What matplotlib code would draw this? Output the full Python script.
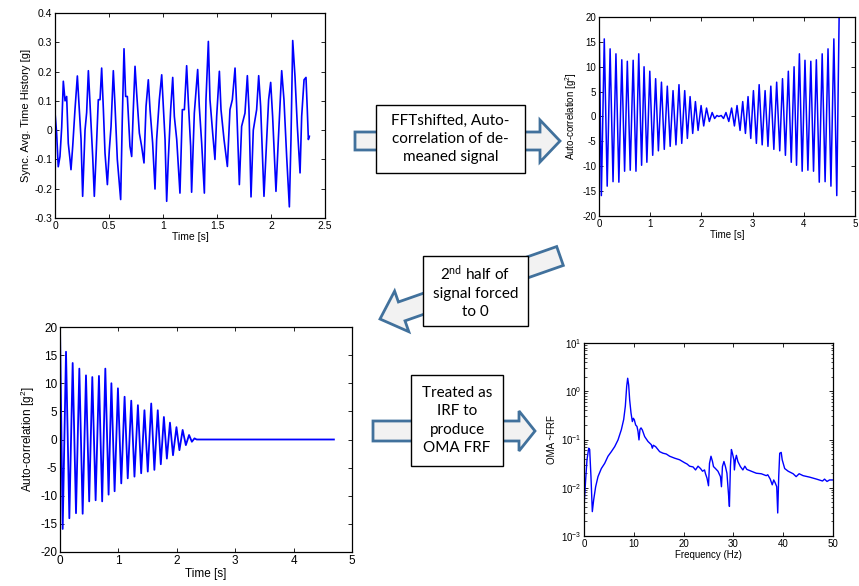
import numpy as np
import matplotlib.pyplot as plt
from matplotlib.patches import FancyArrow, Rectangle
from matplotlib.ticker import FormatStrFormatter

plt.rcParams['font.family'] = ['Liberation Sans', 'DejaVu Sans']
plt.rcParams['axes.unicode_minus'] = False
plt.rcParams['mathtext.fontset'] = 'custom'
plt.rcParams['mathtext.rm'] = 'Liberation Sans'
plt.rcParams['mathtext.it'] = 'Liberation Sans:italic'
plt.rcParams['mathtext.sf'] = 'Lato'
plt.rcParams['xtick.direction'] = 'in'
plt.rcParams['ytick.direction'] = 'in'
plt.rcParams['xtick.top'] = True
plt.rcParams['ytick.right'] = True

# synchronous averaged time history [g]
hist_t = [0.000, 0.015, 0.030, 0.046, 0.062, 0.077, 0.093, 0.108, 0.123, 0.139, 0.148, 0.164,
          0.185, 0.207, 0.225, 0.241, 0.256, 0.278, 0.293, 0.309, 0.330, 0.349, 0.364, 0.380,
          0.401, 0.417, 0.432, 0.448, 0.463, 0.485, 0.503, 0.519, 0.540, 0.556, 0.577, 0.608,
          0.623, 0.639, 0.654, 0.670, 0.694, 0.710, 0.725, 0.741, 0.756, 0.781, 0.802, 0.824,
          0.843, 0.864, 0.880, 0.904, 0.926, 0.941, 0.966, 0.988, 1.003, 1.019, 1.034, 1.049,
          1.071, 1.090, 1.105, 1.127, 1.157, 1.179, 1.198, 1.219, 1.235, 1.256, 1.265, 1.290,
          1.321, 1.336, 1.358, 1.383, 1.398, 1.420, 1.435, 1.460, 1.481, 1.497, 1.522, 1.537,
          1.565, 1.596, 1.620, 1.642, 1.667, 1.682, 1.707, 1.728, 1.759, 1.781, 1.796, 1.815,
          1.836, 1.867, 1.886, 1.904, 1.935, 1.960, 1.978, 1.997, 2.015, 2.046, 2.068, 2.099,
          2.120, 2.145, 2.170, 2.185, 2.201, 2.222, 2.244, 2.269, 2.284, 2.306, 2.324, 2.336,
          2.346, 2.355]
hist_g = [0.060, -0.010, -0.125, -0.090, 0.010, 0.167, 0.100, 0.115, -0.045, -0.100, -0.135, -0.055,
          0.070, 0.185, 0.070, -0.030, -0.226, 0.000, 0.060, 0.203, 0.047, -0.090, -0.226, -0.090,
          0.104, 0.104, 0.212, 0.070, -0.078, -0.186, -0.067, 0.013, 0.203, 0.081, -0.100, -0.237,
          0.036, 0.278, 0.115, 0.115, -0.055, -0.090, 0.070, 0.218, 0.127, -0.010, -0.055, -0.112,
          0.081, 0.172, 0.070, -0.044, -0.201, -0.032, 0.104, 0.189, 0.081, -0.032, -0.243, -0.100,
          0.070, 0.180, 0.047, -0.032, -0.215, 0.070, 0.070, 0.220, 0.093, -0.055, -0.212, 0.058,
          0.207, 0.081, -0.044, -0.215, 0.104, 0.303, 0.104, -0.010, -0.100, 0.047, 0.201, 0.070,
          -0.032, -0.124, 0.070, 0.104, 0.212, 0.081, -0.186, 0.013, 0.058, 0.186, 0.070, -0.228,
          0.000, 0.070, 0.186, 0.081, -0.226, -0.032, 0.104, 0.163, 0.047, -0.209, -0.032, 0.203,
          0.104, -0.090, -0.262, -0.032, 0.306, 0.184, 0.013, -0.146, 0.047, 0.172, 0.180, 0.070,
          -0.032, -0.021]
hist_xticks = [0, 0.5, 1, 1.5, 2, 2.5]
hist_yticks = [-0.3, -0.2, -0.1, 0, 0.1, 0.2, 0.3, 0.4]
hist_ylabels = ['-0.3', '-0.2', '-0.1', '0', '0.1', '0.2', '0.3', '0.4']

# auto-correlation, first half (peaks and troughs) [g^2]
acf_t_left = [0.000, 0.046, 0.103, 0.160, 0.217, 0.274, 0.331, 0.388, 0.445, 0.500, 0.553, 0.610,
              0.667, 0.722, 0.776, 0.832, 0.880, 0.935, 0.992, 1.049, 1.106, 1.160, 1.220, 1.275,
              1.334, 1.390, 1.446, 1.503, 1.562, 1.616, 1.674, 1.726, 1.779, 1.830, 1.883, 1.935,
              1.994, 2.045, 2.100, 2.155, 2.210, 2.258, 2.303, 2.340]
acf_left = [20.0, -15.9, 15.6, -14.0, 13.6, -13.1, 12.6, -13.2, 11.4, -11.0, 11.1, -10.8,
            11.3, -11.0, 12.6, -9.8, 10.0, -9.2, 9.1, -7.8, 7.6, -6.9, 6.9, -6.6,
            6.1, -6.0, 5.2, -5.7, 6.4, -5.4, 5.2, -4.4, 4.0, -3.4, 3.0, -2.8,
            2.2, -1.9, 1.7, -1.0, 0.8, -0.4, 0.2, 0.0]
# auto-correlation, second half
acf_t_right = [2.387, 2.432, 2.480, 2.535, 2.590, 2.645, 2.696, 2.755, 2.807, 2.860, 2.911, 2.964,
               3.016, 3.074, 3.128, 3.187, 3.244, 3.300, 3.356, 3.415, 3.470, 3.530, 3.584, 3.641,
               3.698, 3.755, 3.810, 3.858, 3.914, 3.968, 4.023, 4.080, 4.137, 4.190, 4.245, 4.302,
               4.359, 4.416, 4.473, 4.530, 4.587, 4.644, 4.690]
acf_right = [0.2, -0.4, 0.8, -1.0, 1.7, -1.9, 2.2, -2.8, 3.0, -3.4, 4.0, -4.4,
             5.2, -5.4, 6.4, -5.7, 5.2, -6.0, 6.1, -6.6, 6.9, -6.9, 7.6, -7.8,
             9.1, -9.2, 10.0, -9.8, 12.6, -11.0, 11.3, -10.8, 11.1, -11.0, 11.4, -13.2,
             12.6, -13.1, 13.6, -14.0, 15.6, -15.9, 20.0]
# second half forced to zero
zero_t = [2.340, 4.690]
zero_v = [0.0, 0.0]

# OMA ~FRF
frf_f = [0.0, 0.33, 0.6, 0.94, 1.14, 1.4, 1.67, 1.94, 2.34, 2.81, 3.48, 4.15, 4.82, 5.49, 6.16,
         6.83, 7.5, 7.97, 8.3, 8.57, 8.77, 8.97, 9.17, 9.44, 9.71, 9.91, 10.1, 10.37, 10.64,
         10.84, 11.04, 11.24, 11.45, 11.71, 12.18, 12.85, 13.52, 13.72, 13.92, 14.39, 15.19,
         15.86, 16.53, 17.2, 18.2, 19.2, 20.2, 20.7, 21.2, 21.9, 22.4, 22.9, 23.4, 23.8, 24.2,
         24.4, 24.7, 25.0, 25.2, 25.5, 25.8, 26.0, 26.4, 26.9, 27.4, 27.6, 27.8, 28.1, 28.4,
         28.7, 29.0, 29.2, 29.4, 29.6, 29.8, 30.1, 30.2, 30.4, 30.6, 30.9, 31.4, 31.9, 32.3,
         32.7, 33.6, 34.6, 35.6, 36.6, 36.9, 37.4, 37.8, 38.1, 38.4, 38.7, 38.9, 39.1, 39.3,
         39.6, 39.8, 40.3, 41.0, 42.0, 42.6, 43.2, 44.0, 45.3, 46.7, 47.9, 48.3, 48.8, 49.3, 50.0]
frf_amp = [0.004, 0.0145, 0.038, 0.066, 0.062, 0.017, 0.0032, 0.0056, 0.0105, 0.017, 0.025, 0.032,
           0.045, 0.056, 0.071, 0.098, 0.16, 0.26, 0.49, 1.26, 1.86, 1.35, 0.66, 0.355, 0.235,
           0.275, 0.257, 0.2, 0.186, 0.148, 0.098, 0.162, 0.174, 0.158, 0.115, 0.091, 0.078,
           0.066, 0.076, 0.071, 0.056, 0.052, 0.05, 0.045, 0.041, 0.038, 0.033, 0.031, 0.028,
           0.027, 0.0234, 0.028, 0.025, 0.022, 0.0234, 0.0195, 0.0158, 0.011, 0.032, 0.045,
           0.035, 0.0275, 0.025, 0.022, 0.017, 0.0105, 0.0275, 0.035, 0.0275, 0.02, 0.0078,
           0.0041, 0.0275, 0.062, 0.052, 0.038, 0.0234, 0.038, 0.047, 0.035, 0.0275, 0.0234,
           0.028, 0.024, 0.022, 0.02, 0.0195, 0.0178, 0.0186, 0.0151, 0.0115, 0.0145, 0.0126,
           0.0105, 0.003, 0.017, 0.052, 0.054, 0.038, 0.025, 0.022, 0.0195, 0.017, 0.0195,
           0.0178, 0.0166, 0.0151, 0.0138, 0.0151, 0.0135, 0.0145, 0.0145]

W, H = 859, 586
fig = plt.figure(figsize=(W / 100, H / 100), dpi=100)

# overlay in pixel coordinates for arrows and boxes
ov = fig.add_axes([0, 0, 1, 1])
ov.set_xlim(0, W)
ov.set_ylim(H, 0)
ov.axis('off')

def pax(left, top, right, bottom):
    return fig.add_axes([left / W, 1 - bottom / H, (right - left) / W, (bottom - top) / H])

def matlab_style(ax, fs):
    ax.tick_params(labelsize=fs, length=3, width=0.6, pad=2)
    ax.tick_params(which='minor', length=1.8, width=0.5)
    for s in ax.spines.values():
        s.set_linewidth(0.9)

blue = (0, 0, 1)

ax1 = pax(55, 13, 325, 218)
ax1.plot(hist_t, hist_g, color=blue, lw=1.2)
ax1.set_xlim(0, 2.5)
ax1.set_ylim(-0.3, 0.4)
ax1.set_xticks(hist_xticks)
ax1.set_yticks(hist_yticks)
ax1.set_yticklabels(hist_ylabels)
ax1.xaxis.set_major_formatter(FormatStrFormatter('%g'))
ax1.set_xlabel('Time [s]', fontsize=7.5, labelpad=1)
ax1.set_ylabel('Sync. Avg. Time History [g]', fontsize=8, labelpad=2)
matlab_style(ax1, 7.5)

ax2 = pax(599, 17, 855, 216)
ax2.plot(acf_t_left + acf_t_right, acf_left + acf_right, color=blue, lw=1.1)
ax2.set_xlim(0, 5)
ax2.set_ylim(-20, 20)
ax2.set_yticks(np.arange(-20, 21, 5))
ax2.set_xlabel('Time [s]', fontsize=7, labelpad=1)
ax2.set_ylabel('Auto-correlation [g$^2$]', fontsize=7, labelpad=2)
matlab_style(ax2, 7)

ax3 = pax(60, 327, 352, 552)
ax3.plot(acf_t_left + zero_t, acf_left + zero_v, color=blue, lw=1.3)
ax3.set_xlim(0, 5)
ax3.set_ylim(-20, 20)
ax3.set_yticks(np.arange(-20, 21, 5))
ax3.set_xlabel('Time [s]', fontsize=8.5, labelpad=1)
ax3.set_ylabel('Auto-correlation [g$^2$]', fontsize=8.5, labelpad=2)
matlab_style(ax3, 8.5)

ax4 = pax(584, 343, 833, 536)
ax4.semilogy(frf_f, frf_amp, color=blue, lw=1.0)
ax4.set_xlim(0, 50)
ax4.set_ylim(1e-3, 1e1)
ax4.set_xticks(np.arange(0, 51, 10))
ax4.set_xlabel('Frequency (Hz)', fontsize=7, labelpad=1)
ax4.set_ylabel('OMA ~FRF', fontsize=7, labelpad=3)
matlab_style(ax4, 7)

# block arrows between panels
arrow_fc = '#f2f2f2'
arrow_ec = '#41719c'
ov.add_patch(FancyArrow(355, 141, 205, 0, width=18, head_width=42, head_length=20,
                        length_includes_head=True, fc=arrow_fc, ec=arrow_ec, lw=2, zorder=1))
ov.add_patch(FancyArrow(560, 256, -180, 63, width=20, head_width=43, head_length=23,
                        length_includes_head=True, fc=arrow_fc, ec=arrow_ec, lw=2, zorder=1))
ov.add_patch(FancyArrow(373, 431, 162, 0, width=20, head_width=40, head_length=16,
                        length_includes_head=True, fc=arrow_fc, ec=arrow_ec, lw=2, zorder=1))

boxes = [
    ((376, 105, 525, 173), 'FFTshifted, Auto-\ncorrelation of de-\nmeaned signal'),
    ((423, 256, 528, 326), '2$^{\\mathsf{nd}}$ half of\nsignal forced\nto 0'),
    ((411, 375, 503, 466), 'Treated as\nIRF to\nproduce\nOMA FRF'),
]
for (x0, y0, x1, y1), txt in boxes:
    ov.add_patch(Rectangle((x0, y0), x1 - x0, y1 - y0, fc='white', ec='black', lw=1, zorder=2))
    ov.text((x0 + x1) / 2, (y0 + y1) / 2, txt, ha='center', va='center', fontsize=11,
            family=['Lato', 'DejaVu Sans'], linespacing=1.4, zorder=3)

fig.savefig('out.png', dpi=100)
